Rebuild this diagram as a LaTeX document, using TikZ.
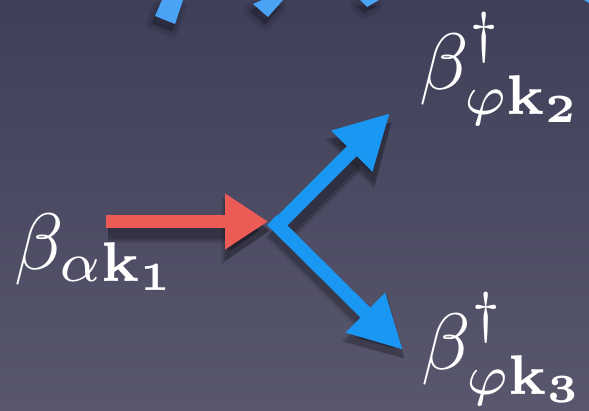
\documentclass[tikz,border=0pt]{standalone}
\usepackage{amsmath}
\usetikzlibrary{arrows.meta}
\definecolor{bgtop}{HTML}{3F3F59}
\definecolor{bgbot}{HTML}{58576D}
\definecolor{arrred}{HTML}{EC5B56}
\definecolor{arrblue}{HTML}{1A96F3}
\definecolor{lightblue}{HTML}{4BA3F5}
\newcommand{\dg}{\raisebox{1.1pt}{$\scriptstyle\dagger$}}
\tikzset{
  lbl/.style={text=white, inner sep=0pt, anchor=base west, scale=8},
  bluearr/.style={draw=arrblue, line width=14pt, -{Triangle[length=54pt,width=54pt]}},
  bluearrb/.style={draw=arrblue, line width=14pt, -{Triangle[length=53pt,width=52pt]}},
  redarr/.style={draw=arrred, line width=13pt, -{Triangle[length=43pt,width=53pt]}},
  shad/.style={draw=black, opacity=0.06, line join=round},
  blur/.style={fill=black, draw=black, fill opacity=0.05, draw opacity=0.05, line join=round, line width=#1},
}
\begin{document}
\begin{tikzpicture}[x=1pt,y=-1pt]
\useasboundingbox (0,0) rectangle (589,411);
\shade[top color=bgtop, bottom color=bgbot] (0,0) rectangle (589,411);

% shadows of partial blue shapes at top
\foreach \w in {2,6,10,14}{
  \filldraw[blur=\w pt, transform canvas={yshift=-7pt, xshift=-3pt}]
    (162,0) -- (183,0) -- (175,24) -- (155,16) -- cycle;
  \filldraw[blur=\w pt, transform canvas={yshift=-7pt, xshift=-3pt}]
    (262,0) -- (283,0) -- (268,17) -- (253,4) -- cycle;
  \filldraw[blur=\w pt, transform canvas={yshift=-6pt, xshift=-3pt}]
    (360,0) -- (379,0) -- (367,7) -- cycle;
}
\fill[lightblue] (162,0) -- (183,0) -- (175,24) -- (155,16) -- cycle;
\fill[lightblue] (262,0) -- (283,0) -- (268,17) -- (253,4) -- cycle;
\fill[lightblue] (360,0) -- (379,0) -- (367,7) -- cycle;
\fill[lightblue] (584,0) -- (589,0) -- (589,3) -- cycle;

% coordinates
\coordinate (rs) at (106,221.5);
\coordinate (v)  at (268,221.5);
\coordinate (us) at (280,223);
\coordinate (ut) at (390,113);
\coordinate (ds) at (272,220);
\coordinate (dt) at (403,350);

% shadows of arrows
\foreach \k in {1,...,6}{
  \draw[shad, line width=13pt+2*\k pt, -{Triangle[length=43pt+\k pt,width=53pt+2*\k pt]}, transform canvas={yshift=-9pt, xshift=2pt}] (rs) -- (v);
  \draw[shad, line width=14pt+2*\k pt, -{Triangle[length=54pt+\k pt,width=54pt+2*\k pt]}, transform canvas={yshift=-9pt, xshift=2pt}] (us) -- (ut);
}
% arrows
\draw[redarr] (rs) -- (v);
\draw[bluearr] (us) -- (ut);
\foreach \k in {1,...,5}{
  \draw[shad, line width=14pt+2*\k pt, -{Triangle[length=53pt+\k pt,width=52pt+2*\k pt]}, transform canvas={yshift=-9pt, xshift=2pt}] (ds) -- (dt);
}
\draw[bluearrb] (ds) -- (dt);

% labels
\node[lbl] (l1) at (13,270) {$\beta_{\alpha\mathbf{k_1}}$};
\node[lbl] (l2) at (418,90) {$\beta^{\dg}_{\varphi\mathbf{k_2}}$};
\node[lbl] (l3) at (420,370) {$\beta^{\dg}_{\varphi\mathbf{k_3}}$};
\end{tikzpicture}
\end{document}
